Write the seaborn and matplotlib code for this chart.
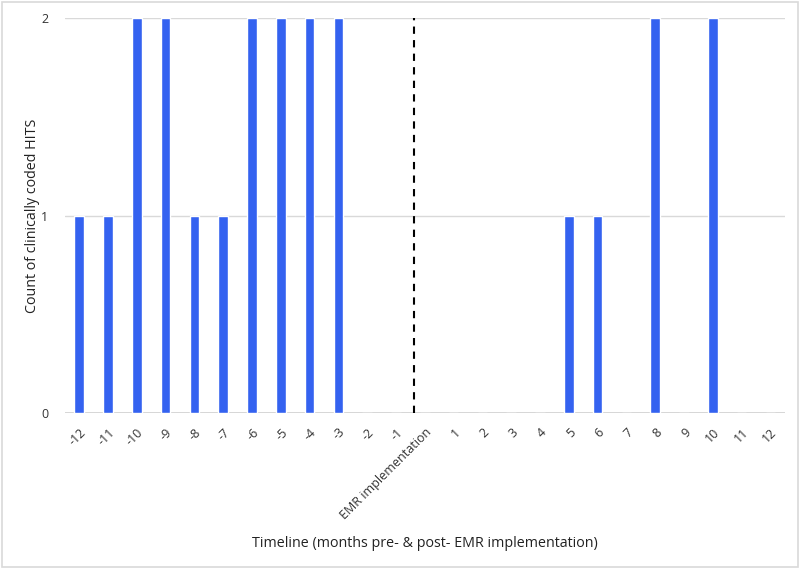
import matplotlib
matplotlib.use("Agg")
import matplotlib.pyplot as plt
import seaborn as sns
import pandas as pd
from matplotlib.patches import Rectangle

categories = [str(i) for i in range(-12, 0)] + ["EMR implementation"] + [str(i) for i in range(1, 13)]
counts = [1, 1, 2, 2, 1, 1, 2, 2, 2, 2, 0, 0,
          0,
          0, 0, 0, 0, 1, 1, 0, 2, 0, 2, 0, 0]
y_ticks = [0, 1, 2]

df = pd.DataFrame({"month": categories, "count": counts})

sns.set_theme(style="white")
plt.rcParams["font.family"] = ["Open Sans", "DejaVu Sans"]

fig = plt.figure(figsize=(8, 5.69), dpi=100)
ax = fig.add_axes([0.081, 0.274, 0.900, 0.694])

sns.barplot(data=df, x="month", y="count", order=categories, color="#3462F0",
            width=0.33, saturation=1, ax=ax)

ax.set_xlim(-0.5, len(categories) - 0.5)
ax.set_ylim(0, 2)
ax.set_yticks(y_ticks)
ax.set_yticklabels([str(v) for v in y_ticks], fontsize=9, color="#333333")
for v in y_ticks[1:]:
    ax.axhline(v, color="#d9d9d9", lw=1, zorder=0)
ax.axhline(0, color="#d0d0d0", lw=1.2, zorder=0.5)

for s in ax.spines.values():
    s.set_visible(False)

ax.tick_params(axis="y", length=0, pad=12)
ax.tick_params(axis="x", length=0, pad=9)
ax.set_xticks(range(len(categories)))
ax.set_xticklabels(categories, rotation=45, ha="right", rotation_mode="anchor",
                   fontsize=9, color="#333333")

# dashed divider at EMR implementation
ax.axvline(11.62, color="black", lw=1.5, ls=(0, (3.5, 3)), zorder=3)

ax.set_xlabel("Timeline (months pre- & post- EMR implementation)", fontsize=10.3, color="#222222")
ax.xaxis.set_label_coords(0.5, -0.31)
ax.set_ylabel("Count of clinically coded HITS", fontsize=10.3, color="#222222")
ax.yaxis.set_label_coords(-0.035, 0.5)

fig.patches.append(Rectangle((0.002, 0.003), 0.996, 0.994, transform=fig.transFigure,
                             fill=False, edgecolor="#d9d9d9", lw=1.2))

fig.savefig("out.png", dpi=100)
